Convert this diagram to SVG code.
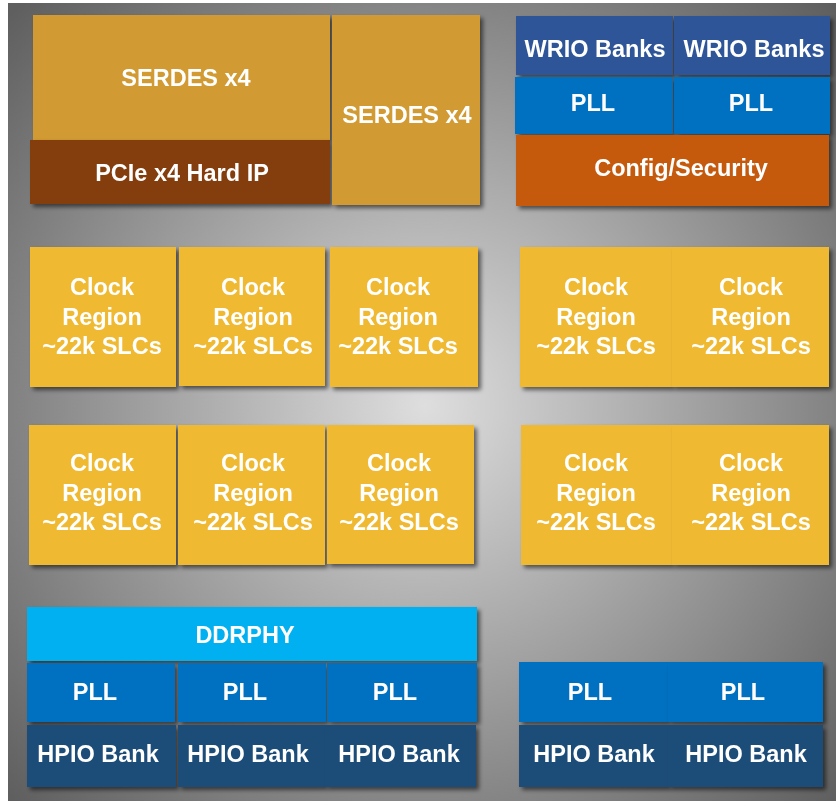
<svg xmlns="http://www.w3.org/2000/svg" width="836" height="801" viewBox="0 0 836 801">
  <defs>
    <radialGradient id="bg" gradientUnits="userSpaceOnUse" cx="425" cy="405" r="570">
      <stop offset="0" stop-color="#dedede"/>
      <stop offset="1" stop-color="#5f5f5f"/>
    </radialGradient>
    <filter id="shadow" x="-10%" y="-10%" width="130%" height="130%">
      <feDropShadow dx="3" dy="3" stdDeviation="2" flood-color="#000" flood-opacity="0.55"/>
    </filter>
    <style>
      .blk { filter: url(#shadow); }
      .serdes { fill: #d19a33; }
      .pcie { fill: #843c0c; }
      .wrio { fill: #2f5597; }
      .pll { fill: #0070c0; }
      .cfg { fill: #c55a11; }
      .clk { fill: #f0b933; }
      .ddr { fill: #00b0f0; }
      .hpio { fill: #1f4e79; }
      text { font-family: "Liberation Sans", Arial, sans-serif; font-weight: bold; font-size: 23.5px; fill: #ffffff; text-anchor: middle; }
    </style>
  </defs>

  <!-- die background -->
  <rect x="0" y="0" width="836" height="801" fill="#ffffff"/>
  <rect x="8" y="3" width="828" height="798" fill="url(#bg)"/>

  <!-- top-left: transceivers -->
  <g id="serdes-a" class="blk"><rect class="serdes" x="33" y="15" width="297" height="125"/><text x="186" y="86">SERDES x4</text></g>
  <g id="pcie" class="blk"><rect class="pcie" x="30" y="140" width="300" height="64"/><text x="182" y="181">PCIe x4 Hard IP</text></g>
  <g id="serdes-b" class="blk"><rect class="serdes" x="332" y="15" width="148" height="190"/><text x="407" y="123">SERDES x4</text></g>

  <!-- top-right: WRIO, PLL, config -->
  <g id="wrio-1" class="blk"><rect class="wrio" x="516" y="16" width="157" height="59"/><text x="595" y="57">WRIO Banks</text></g>
  <g id="wrio-2" class="blk"><rect class="wrio" x="674" y="16" width="156" height="59"/><text x="754" y="57">WRIO Banks</text></g>
  <g id="pll-t1" class="blk"><rect class="pll" x="515" y="77" width="158" height="57"/><text x="593" y="111">PLL</text></g>
  <g id="pll-t2" class="blk"><rect class="pll" x="674" y="77" width="156" height="57"/><text x="751" y="111">PLL</text></g>
  <g id="config" class="blk"><rect class="cfg" x="516" y="135" width="313" height="71"/><text x="681" y="176">Config/Security</text></g>

  <!-- clock regions, row 1 -->
  <g id="cr-1-1" class="blk"><rect class="clk" x="30" y="247" width="146" height="140"/><text x="102"><tspan x="102" y="295">Clock</tspan><tspan x="102" y="325">Region</tspan><tspan x="102" y="354">~22k SLCs</tspan></text></g>
  <g id="cr-1-2" class="blk"><rect class="clk" x="179" y="247" width="146" height="139"/><text x="253"><tspan x="253" y="295">Clock</tspan><tspan x="253" y="325">Region</tspan><tspan x="253" y="354">~22k SLCs</tspan></text></g>
  <g id="cr-1-3" class="blk"><rect class="clk" x="330" y="247" width="148" height="140"/><text x="398"><tspan x="398" y="295">Clock</tspan><tspan x="398" y="325">Region</tspan><tspan x="398" y="354">~22k SLCs</tspan></text></g>
  <g id="cr-1-4" class="blk"><rect class="clk" x="520" y="247" width="152" height="140"/><text x="596"><tspan x="596" y="295">Clock</tspan><tspan x="596" y="325">Region</tspan><tspan x="596" y="354">~22k SLCs</tspan></text></g>
  <g id="cr-1-5" class="blk"><rect class="clk" x="672" y="247" width="157" height="140"/><text x="751"><tspan x="751" y="295">Clock</tspan><tspan x="751" y="325">Region</tspan><tspan x="751" y="354">~22k SLCs</tspan></text></g>

  <!-- clock regions, row 2 -->
  <g id="cr-2-1" class="blk"><rect class="clk" x="29" y="425" width="147" height="140"/><text x="102"><tspan x="102" y="471">Clock</tspan><tspan x="102" y="501">Region</tspan><tspan x="102" y="530">~22k SLCs</tspan></text></g>
  <g id="cr-2-2" class="blk"><rect class="clk" x="178" y="425" width="147" height="140"/><text x="253"><tspan x="253" y="471">Clock</tspan><tspan x="253" y="501">Region</tspan><tspan x="253" y="530">~22k SLCs</tspan></text></g>
  <g id="cr-2-3" class="blk"><rect class="clk" x="327" y="425" width="147" height="139"/><text x="399"><tspan x="399" y="471">Clock</tspan><tspan x="399" y="501">Region</tspan><tspan x="399" y="530">~22k SLCs</tspan></text></g>
  <g id="cr-2-4" class="blk"><rect class="clk" x="521" y="425" width="151" height="140"/><text x="596"><tspan x="596" y="471">Clock</tspan><tspan x="596" y="501">Region</tspan><tspan x="596" y="530">~22k SLCs</tspan></text></g>
  <g id="cr-2-5" class="blk"><rect class="clk" x="672" y="425" width="157" height="140"/><text x="751"><tspan x="751" y="471">Clock</tspan><tspan x="751" y="501">Region</tspan><tspan x="751" y="530">~22k SLCs</tspan></text></g>

  <!-- bottom-left: DDR PHY, PLLs, HPIO banks -->
  <g id="ddrphy" class="blk"><rect class="ddr" x="27" y="607" width="450" height="54"/><text x="245" y="643">DDRPHY</text></g>
  <g id="pll-b1" class="blk"><rect class="pll" x="27" y="663" width="148" height="59"/><text x="95" y="700">PLL</text></g>
  <g id="pll-b2" class="blk"><rect class="pll" x="178" y="663" width="148" height="59"/><text x="245" y="700">PLL</text></g>
  <g id="pll-b3" class="blk"><rect class="pll" x="327" y="663" width="150" height="59"/><text x="395" y="700">PLL</text></g>
  <g id="hpio-1" class="blk"><rect class="hpio" x="27" y="725" width="149" height="62"/><text x="98" y="762">HPIO Bank</text></g>
  <g id="hpio-2" class="blk"><rect class="hpio" x="178" y="725" width="147" height="62"/><text x="248" y="762">HPIO Bank</text></g>
  <g id="hpio-3" class="blk"><rect class="hpio" x="325" y="725" width="151" height="62"/><text x="399" y="762">HPIO Bank</text></g>

  <!-- bottom-right: PLLs, HPIO banks -->
  <g id="pll-b4" class="blk"><rect class="pll" x="519" y="662" width="149" height="60"/><text x="590" y="700">PLL</text></g>
  <g id="pll-b5" class="blk"><rect class="pll" x="668" y="662" width="155" height="60"/><text x="743" y="700">PLL</text></g>
  <g id="hpio-4" class="blk"><rect class="hpio" x="519" y="725" width="149" height="62"/><text x="594" y="762">HPIO Bank</text></g>
  <g id="hpio-5" class="blk"><rect class="hpio" x="668" y="725" width="155" height="62"/><text x="746" y="762">HPIO Bank</text></g>

  <!-- no connectors in this floorplan -->
  <g id="connectors"/>
</svg>
